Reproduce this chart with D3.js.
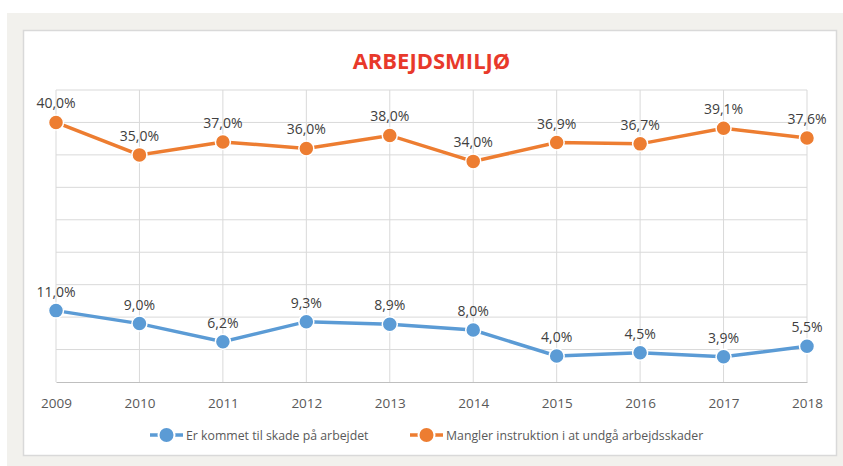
<!DOCTYPE html>
<html>
<head>
<meta charset="utf-8">
<script src="https://cdn.jsdelivr.net/npm/d3@7"></script>
<style>
  body { margin: 0; background: #ffffff; }
  svg text { font-family: "Open Sans", sans-serif; }
</style>
</head>
<body>
<svg id="chart" width="843" height="466"></svg>
<script>
// chart data
const years = ["2009", "2010", "2011", "2012", "2013", "2014", "2015", "2016", "2017", "2018"];
const skade = [11.0, 9.0, 6.2, 9.3, 8.9, 8.0, 4.0, 4.5, 3.9, 5.5];
const instruktion = [40.0, 35.0, 37.0, 36.0, 38.0, 34.0, 36.9, 36.7, 39.1, 37.6];
const seriesNames = ["Er kommet til skade på arbejdet", "Mangler instruktion i at undgå arbejdsskader"];
const yTicks = [0, 5, 10, 15, 20, 25, 30, 35, 40, 45];

document.addEventListener("DOMContentLoaded", function () {
  const styling = { width: 843, height: 466, marginLeft: 56, marginRight: 36, marginTop: 90, marginBottom: 84 };
  drawChart("#chart", styling);
});

function drawChart(svgSelector, styling) {
  const svg = d3.select(svgSelector);
  const { width, height, marginLeft, marginRight, marginTop, marginBottom } = styling;
  const colors = ["#5b9bd5", "#ed7d31"];

  // gray page background + white card
  svg.append("rect").attr("x", 7).attr("y", 13).attr("width", width - 7).attr("height", height - 13).attr("fill", "#f2f1ed");
  svg.append("rect").attr("x", 23.5).attr("y", 30.5).attr("width", 813).attr("height", 425)
    .attr("fill", "#ffffff").attr("stroke", "#d9d9d9").attr("stroke-width", 1.5);

  const x = d3.scalePoint().domain(years).range([marginLeft, width - marginRight]);
  const y = d3.scaleLinear().domain([0, 45]).range([height - marginBottom, marginTop]);

  // gridlines
  svg.append("g").selectAll("line.h").data(yTicks.slice(1)).join("line")
    .attr("x1", marginLeft).attr("x2", width - marginRight)
    .attr("y1", d => y(d)).attr("y2", d => y(d))
    .attr("stroke", "#d9d9d9").attr("stroke-width", 1);
  svg.append("g").selectAll("line.v").data(years).join("line")
    .attr("x1", d => x(d)).attr("x2", d => x(d))
    .attr("y1", y(45)).attr("y2", y(0))
    .attr("stroke", "#d9d9d9").attr("stroke-width", 1);

  // x axis
  const xAxis = svg.append("g").attr("transform", `translate(0,${y(0)})`)
    .call(d3.axisBottom(x).tickSize(0).tickPadding(16));
  xAxis.select(".domain").attr("stroke", "#bfbfbf").attr("stroke-width", 1.2);
  xAxis.selectAll("text").attr("font-size", 13.5).attr("fill", "#595959");

  // title
  svg.append("text").attr("x", (marginLeft + width - marginRight) / 2).attr("y", 69)
    .attr("text-anchor", "middle").attr("font-size", 22).attr("font-weight", "bold")
    .attr("fill", "#e8392b").text("ARBEJDSMILJØ");

  const line = d3.line().x((d, i) => x(years[i])).y(d => y(d));
  const fmt = v => d3.format(".1f")(v).replace(".", ",") + "%";

  [skade, instruktion].forEach((vals, s) => {
    svg.append("path").datum(vals).attr("d", line)
      .attr("fill", "none").attr("stroke", colors[s]).attr("stroke-width", 3.5);
    svg.append("g").selectAll("circle").data(vals).join("circle")
      .attr("cx", (d, i) => x(years[i])).attr("cy", d => y(d)).attr("r", 7.5)
      .attr("fill", colors[s]).attr("stroke", "#ffffff").attr("stroke-width", 1.5);
    svg.append("g").selectAll("text").data(vals).join("text")
      .attr("x", (d, i) => x(years[i])).attr("y", d => y(d) - 14)
      .attr("text-anchor", "middle").attr("font-size", 14).attr("fill", "#404040")
      .text(fmt);
  });

  // legend
  const legendX = [150, 410];
  seriesNames.forEach((name, s) => {
    const g = svg.append("g").attr("transform", `translate(${legendX[s]},435)`);
    g.append("line").attr("x1", 0).attr("x2", 33).attr("stroke", colors[s]).attr("stroke-width", 3.5);
    g.append("circle").attr("cx", 16.5).attr("r", 8).attr("fill", colors[s]).attr("stroke", "#ffffff").attr("stroke-width", 2);
    g.append("text").attr("x", 36).attr("y", 5).attr("font-size", 12.3).attr("fill", "#595959").text(name);
  });
}
</script>
</body>
</html>
